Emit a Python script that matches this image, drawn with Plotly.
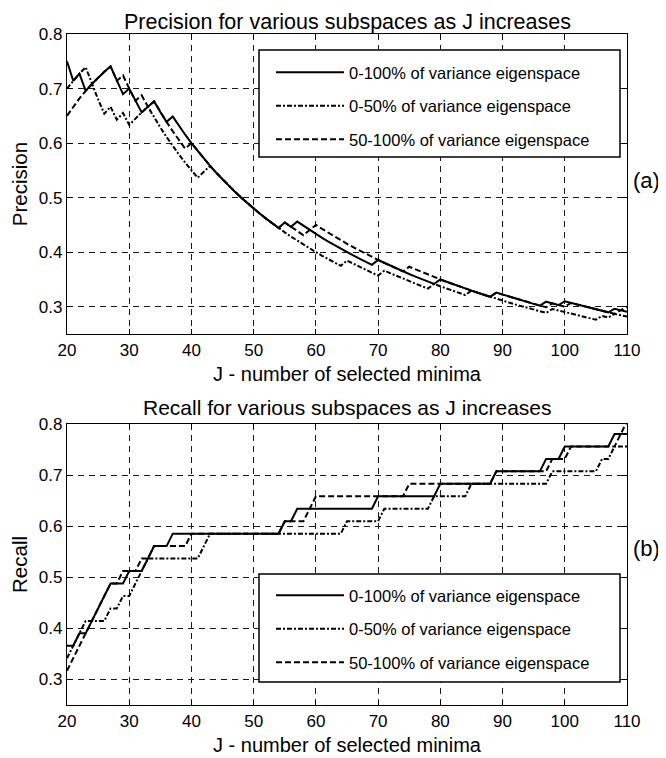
import plotly.graph_objects as go

# ---------------- data ----------------
J = list(range(20, 111))          # number of selected minima
N_RELEVANT = 41                   # recall denominator (relevant minima)

SERIES_NAMES = [
    "0-100% of variance eigenspace",
    "0-50% of variance eigenspace",
    "50-100% of variance eigenspace",
]

# correct minima found among the J selected ones, J = 20..110
HITS_FULL = [
    15, 15, 16, 16, 17, 18, 19, 20, 20, 20,
    21, 21, 21, 22, 23, 23, 23, 24, 24, 24,
    24, 24, 24, 24, 24, 24, 24, 24, 24, 24,
    24, 24, 24, 24, 24, 25, 25, 26, 26, 26,
    26, 26, 26, 26, 26, 26, 26, 26, 26, 26,
    27, 27, 27, 27, 27, 27, 27, 27, 27, 27,
    28, 28, 28, 28, 28, 28, 28, 28, 28, 29,
    29, 29, 29, 29, 29, 29, 29, 30, 30, 30,
    31, 31, 31, 31, 31, 31, 31, 31, 32, 32,
    32,
]
HITS_LOW = [
    14, 15, 16, 17, 17, 17, 17, 18, 18, 19,
    19, 20, 21, 22, 22, 22, 22, 22, 22, 22,
    22, 22, 23, 24, 24, 24, 24, 24, 24, 24,
    24, 24, 24, 24, 24, 24, 24, 24, 24, 24,
    24, 24, 24, 24, 24, 25, 25, 25, 25, 25,
    25, 26, 26, 26, 26, 26, 26, 26, 26, 27,
    27, 27, 27, 27, 27, 28, 28, 28, 28, 28,
    28, 28, 28, 28, 28, 28, 28, 28, 29, 29,
    29, 29, 29, 29, 29, 29, 30, 30, 31, 31,
    31,
]
HITS_HIGH = [
    13, 14, 15, 16, 17, 18, 19, 20, 20, 21,
    21, 21, 22, 22, 23, 23, 23, 23, 23, 23,
    24, 24, 24, 24, 24, 24, 24, 24, 24, 24,
    24, 24, 24, 24, 24, 25, 25, 25, 25, 26,
    27, 27, 27, 27, 27, 27, 27, 27, 27, 27,
    27, 27, 27, 27, 27, 28, 28, 28, 28, 28,
    28, 28, 28, 28, 28, 28, 28, 28, 28, 29,
    29, 29, 29, 29, 29, 29, 29, 29, 30, 30,
    30, 31, 31, 31, 31, 31, 31, 31, 31, 32,
    33,
]
HITS = [HITS_FULL, HITS_LOW, HITS_HIGH]

X_TICKS = list(range(20, 111, 10))
Y_TICKS = [0.3, 0.4, 0.5, 0.6, 0.7, 0.8]

# ---------------- styling ----------------
# the page body has an 8px margin, so the figure starts at (8, 8)
OFF = 8
WIN_W, WIN_H = 666, 758
W, H = WIN_W - OFF, WIN_H - OFF
# plot area in window pixels
PX_L, PX_R, PX_T, PX_B = 67, 627, 34, 705
ML, MT = PX_L - OFF, PX_T - OFF
MR, MB = W - (PX_R - OFF), H - (PX_B - OFF)
PW, PH = PX_R - PX_L, PX_B - PX_T
FONT = "Liberation Sans, Arial, Helvetica, sans-serif"
DASHES = ["solid", "5px,2px,2px,2px", "6px,3px"]


def px_x(px):
    return (px - PX_L) / PW


def px_y(py):
    return (PX_B - py) / PH


fig = go.Figure()
for name, hits, dash in zip(SERIES_NAMES, HITS, DASHES):
    precision = [h / j for h, j in zip(hits, J)]
    recall = [h / N_RELEVANT for h in hits]
    fig.add_trace(go.Scatter(
        x=J, y=precision, mode="lines", name=name,
        line=dict(color="black", width=2, dash=dash),
        xaxis="x", yaxis="y", legend="legend", legendgroup="p_" + name,
    ))
    fig.add_trace(go.Scatter(
        x=J, y=recall, mode="lines", name=name,
        line=dict(color="black", width=2, dash=dash),
        xaxis="x2", yaxis="y2", legend="legend2", legendgroup="r_" + name,
    ))

axis_common = dict(
    showline=True, linecolor="black", linewidth=1.2, mirror="ticks",
    ticks="inside", ticklen=5, tickcolor="black", tickwidth=1,
    showgrid=True, gridcolor="#1a1a1a", gridwidth=1, griddash="6px,5px",
    zeroline=False, tickfont=dict(family=FONT, size=17, color="black"),
)
xcommon = dict(axis_common, range=[20, 110], tickvals=X_TICKS,
               title=dict(text="J - number of selected minima",
                          font=dict(family=FONT, size=20, color="black"),
                          standoff=8))
ycommon = dict(axis_common, range=[0.25, 0.8], tickvals=Y_TICKS,
               tickformat=".1f")

legend_common = dict(
    xanchor="left", yanchor="top", bgcolor="rgba(0,0,0,0)", borderwidth=0,
    font=dict(family=FONT, size=16.5, color="black"), tracegroupgap=9,
    itemwidth=68,
)

fig.update_layout(
    width=W, height=H, template="none",
    paper_bgcolor="white", plot_bgcolor="white",
    margin=dict(l=ML, r=MR, t=MT, b=MB),
    font=dict(family=FONT, color="black"),
    xaxis=dict(xcommon, anchor="y", domain=[0, 1]),
    yaxis=dict(ycommon, anchor="x", domain=[px_y(334), 1],
               title=dict(text="Precision", standoff=16,
                          font=dict(family=FONT, size=20.5, color="black"))),
    xaxis2=dict(xcommon, anchor="y2", domain=[0, 1]),
    yaxis2=dict(ycommon, anchor="x2", domain=[0, px_y(424)],
                title=dict(text="Recall", standoff=16,
                           font=dict(family=FONT, size=20.5, color="black"))),
    legend=dict(legend_common, x=px_x(271), y=px_y(55)),
    legend2=dict(legend_common, x=px_x(271), y=px_y(578)),
    showlegend=True,
)

# white legend boxes
for (x0, y0, x1, y1) in [(259, 50, 620, 157), (259, 574, 620, 682)]:
    fig.add_shape(type="rect", xref="paper", yref="paper",
                  x0=px_x(x0), x1=px_x(x1), y0=px_y(y1), y1=px_y(y0),
                  line=dict(color="black", width=1.5), fillcolor="white",
                  layer="above")

# titles (top one anchored to the top edge of the figure)
fig.add_annotation(text="Precision for various subspaces as J increases",
                   xref="paper", yref="paper", x=px_x(347), y=px_y(OFF + 0.5),
                   xanchor="center", yanchor="top", showarrow=False,
                   borderpad=0,
                   font=dict(family=FONT, size=21.5, color="black"))
annots = [
    ("Recall for various subspaces as J increases", 347, 407, 21),
    ("(a)", 646, 180, 22),
    ("(b)", 646, 548, 22),
]
for text, ax, ay, size in annots:
    fig.add_annotation(text=text, xref="paper", yref="paper",
                       x=px_x(ax), y=px_y(ay), xanchor="center",
                       yanchor="middle", showarrow=False,
                       font=dict(family=FONT, size=size, color="black"))

fig.write_html("out.html")
